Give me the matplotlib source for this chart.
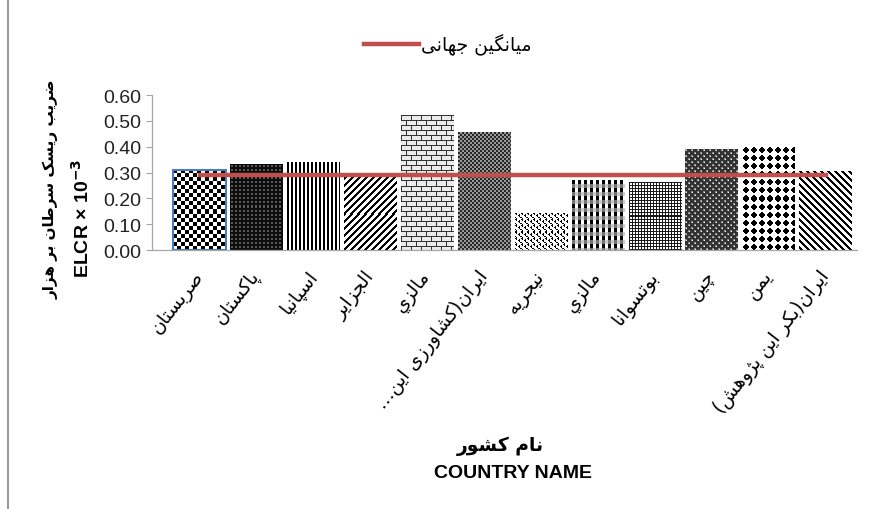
import numpy as np
import matplotlib
matplotlib.use("Agg")
import matplotlib.pyplot as plt
from matplotlib.lines import Line2D

# داده‌ها
countries = ["صربستان", "پاکستان", "اسپانیا", "الجزایر", "مالزي", "ایران(کشاورزی این…",
             "نیجریه", "مالزي", "بوتسوانا", "چین", "یمن", "ایران(بکر این پژوهش)"]
elcr = [0.31, 0.33, 0.34, 0.28, 0.52, 0.455, 0.14, 0.27, 0.26, 0.39, 0.40, 0.305]
world_mean = 0.29
yticks = [0.0, 0.1, 0.2, 0.3, 0.4, 0.5, 0.6]

legend_label = "میانگین جهانی"
ylabel_fa = "ضریب ریسک سرطان بر هزار"
ylabel_en = r"ELCR × 10$^{\mathbf{-3}}$"
xlabel_fa = "نام کشور"
xlabel_en = "COUNTRY NAME"

# ---- شکل‌دهی ساده حروف فارسی (matplotlib خودش اتصال حروف را انجام نمی‌دهد)
FORMS = {
    "ا": (0xFE8D, 0xFE8E), "د": (0xFEA9, 0xFEAA), "ر": (0xFEAD, 0xFEAE),
    "ز": (0xFEAF, 0xFEB0), "و": (0xFEED, 0xFEEE), "ژ": (0xFB8A, 0xFB8B),
    "ب": (0xFE8F, 0xFE90, 0xFE91, 0xFE92), "ت": (0xFE95, 0xFE96, 0xFE97, 0xFE98),
    "ج": (0xFE9D, 0xFE9E, 0xFE9F, 0xFEA0), "س": (0xFEB1, 0xFEB2, 0xFEB3, 0xFEB4),
    "ش": (0xFEB5, 0xFEB6, 0xFEB7, 0xFEB8), "ص": (0xFEB9, 0xFEBA, 0xFEBB, 0xFEBC),
    "ض": (0xFEBD, 0xFEBE, 0xFEBF, 0xFEC0), "ط": (0xFEC1, 0xFEC2, 0xFEC3, 0xFEC4),
    "ک": (0xFB8E, 0xFB8F, 0xFB90, 0xFB91), "گ": (0xFB92, 0xFB93, 0xFB94, 0xFB95),
    "ل": (0xFEDD, 0xFEDE, 0xFEDF, 0xFEE0), "م": (0xFEE1, 0xFEE2, 0xFEE3, 0xFEE4),
    "ن": (0xFEE5, 0xFEE6, 0xFEE7, 0xFEE8), "ه": (0xFEE9, 0xFEEA, 0xFEEB, 0xFEEC),
    "ی": (0xFBFC, 0xFBFD, 0xFBFE, 0xFBFF), "ي": (0xFEF1, 0xFEF2, 0xFEF3, 0xFEF4),
    "پ": (0xFB56, 0xFB57, 0xFB58, 0xFB59), "چ": (0xFB7A, 0xFB7B, 0xFB7C, 0xFB7D),
}


def fa(text):
    out = []
    for i, c in enumerate(text):
        if c not in FORMS:
            out.append(c)
            continue
        prev = text[i - 1] if i > 0 else ""
        nxt = text[i + 1] if i + 1 < len(text) else ""
        f = FORMS[c]
        jp = prev in FORMS and len(FORMS[prev]) == 4
        jn = nxt in FORMS and len(f) == 4
        if jp and jn:
            k = 3
        elif jp:
            k = 1
        elif jn:
            k = 2
        else:
            k = 0
        out.append(chr(f[k]))
    vis = "".join(out)[::-1]
    return vis.translate(str.maketrans("()", ")("))


# ---- الگوهای پرکردن ستون‌ها (واحد: پیکسل)
def tile(name):
    if name == "checker":
        r, c = np.indices((8, 8))
        return ((r // 4 + c // 4) % 2).astype(float)
    if name == "darkdots":
        t = np.full((4, 4), 0.05)
        t[1:3, 1:3] = 0.35
        return t
    if name == "vstripe":
        return np.array([[0.0, 0.0, 1.0, 1.0]])
    if name == "fdiag":
        r, c = np.indices((7, 7))
        return np.where((r + c) % 7 < 3, 0.0, 1.0)
    if name == "bdiag":
        r, c = np.indices((7, 7))
        return np.where((c - r) % 7 < 3, 0.0, 1.0)
    if name == "brick":
        t = np.full((10, 10), 0.92)
        t[0, :] = 0.2
        t[5, :] = 0.2
        t[1:5, 0] = 0.2
        t[6:10, 5] = 0.2
        return t
    if name == "darkfine":
        t = np.full((4, 4), 0.6)
        t[0:2, 0:2] = 0.15
        t[2:4, 2:4] = 0.15
        return t
    if name == "confetti":
        t = np.ones((6, 6))
        for (a, b) in [(0, 0), (0, 1), (1, 1), (2, 3), (2, 4), (3, 4),
                       (4, 0), (5, 1), (4, 5), (1, 4)]:
            t[a, b] = 0.0
        return t
    if name == "plaid":
        t = np.ones((8, 6))
        t[0:4, 0:3] = 0.0
        t[4:8, 0:3] = 0.45
        t[4:8, 3:6] = 0.8
        return t
    if name == "grid":
        t = np.ones((3, 3))
        t[0, :] = 0.1
        t[:, 0] = 0.1
        return t
    if name == "shingle":
        t = np.full((6, 6), 0.2)
        t[0:2, 0:2] = 0.55
        t[1, 1] = 0.95
        t[3:5, 3:5] = 0.55
        t[4, 4] = 0.95
        return t
    if name == "diamond":
        r, c = np.indices((8, 8))
        return np.where(np.abs(r - 3.5) + np.abs(c - 3.5) <= 3.6, 0.0, 1.0)
    return np.ones((1, 1))


patterns = ["checker", "darkdots", "vstripe", "fdiag", "brick", "darkfine",
            "confetti", "plaid", "grid", "shingle", "diamond", "bdiag"]

fig = plt.figure(figsize=(8.7, 5.1), dpi=100)
ax = fig.add_axes([0.1747, 0.5078, 0.8103, 0.3039])
ax.set_xlim(-0.84, 11.55)
ax.set_ylim(0, 0.6)

x = np.arange(len(countries))
bars = ax.bar(x, elcr, width=0.93, facecolor="none", edgecolor="none", zorder=3)
bars[0].set_edgecolor("#4A7EBB")
bars[0].set_linewidth(1.5)

for b, p in zip(bars, patterns):
    x0, w, h = b.get_x(), b.get_width(), b.get_height()
    p0 = ax.transData.transform((x0, 0))
    p1 = ax.transData.transform((x0 + w, h))
    wp = max(int(round(p1[0] - p0[0])), 1)
    hp = max(int(round(p1[1] - p0[1])), 1)
    t = tile(p)
    img = np.tile(t, (hp // t.shape[0] + 2, wp // t.shape[1] + 2))[:hp, :wp]
    ax.imshow(img, extent=(x0, x0 + w, 0, h), cmap="gray", vmin=0, vmax=1,
              interpolation="nearest", aspect="auto", zorder=2)

ax.plot(x, [world_mean] * len(x), color="#C0504D", lw=3.2, zorder=4)
ax.set_xlim(-0.84, 11.55)
ax.set_ylim(0, 0.6)

for s in ["top", "right"]:
    ax.spines[s].set_visible(False)
for s in ["left", "bottom"]:
    ax.spines[s].set_color("#A6A6A6")
    ax.spines[s].set_linewidth(0.9)

ax.set_yticks(yticks)
ax.set_yticklabels([f"{v:.2f}" for v in yticks], fontsize=14,
                   family="Liberation Sans", color="#222222")
ax.tick_params(axis="y", length=4, color="#A6A6A6", pad=4)
ax.set_xticks(x)
ax.set_xticklabels([fa(c) for c in countries], rotation=52, ha="right",
                   va="center", rotation_mode="anchor", fontsize=13.5,
                   family="DejaVu Sans")
ax.tick_params(axis="x", length=0, pad=16)

# عنوان محورها
fig.text(51 / 870, 1 - 189 / 510, fa(ylabel_fa), rotation=90, ha="center",
         va="center", fontsize=11, fontweight="bold", family="DejaVu Sans")
fig.text(82 / 870, 1 - 218 / 510, ylabel_en, rotation=90, ha="center",
         va="center", fontsize=14, fontweight="bold", family="Liberation Sans")
fig.text(500 / 870, 1 - 446 / 510, fa(xlabel_fa), ha="center", va="center",
         fontsize=13.5, fontweight="bold", family="DejaVu Sans")
fig.text(513 / 870, 1 - 474 / 510, xlabel_en, ha="center", va="center",
         fontsize=14, fontweight="bold", family="Liberation Sans")

handle = Line2D([], [], color="#C0504D", lw=3.2)
fig.legend([handle], [fa(legend_label)], loc="center",
           bbox_to_anchor=(448 / 870, 1 - 45 / 510), frameon=False,
           handlelength=2.9, handletextpad=0.15,
           prop={"family": "DejaVu Sans", "size": 13.5})

# قاب کناری
fig.add_artist(Line2D([8 / 870, 8 / 870], [0, 1], color="#9A9A9A", lw=1.5))

fig.savefig("out.png", dpi=100)
